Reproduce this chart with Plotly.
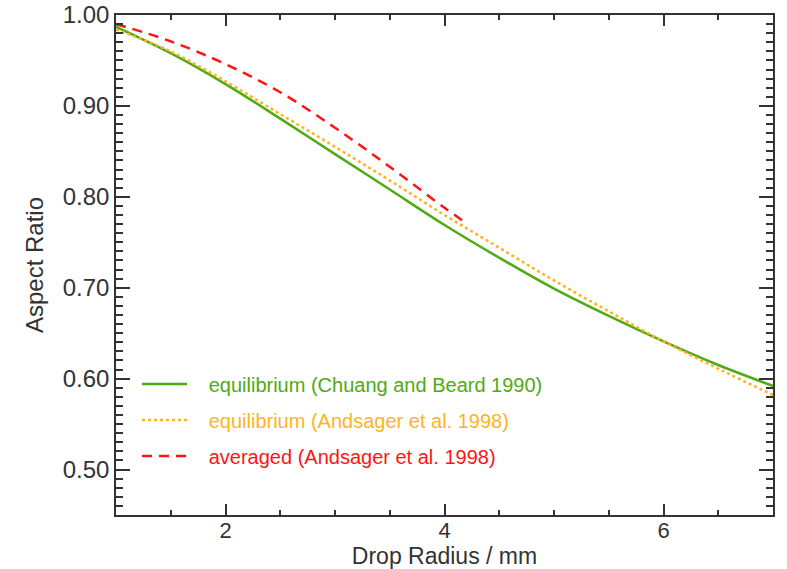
import plotly.graph_objects as go

radius = [1.0, 1.5, 2.0, 2.5, 3.0, 3.5, 4.0, 4.5, 5.0, 5.5, 6.0, 6.5, 7.0]
eq_chuang_beard = [0.987, 0.958, 0.924, 0.886, 0.847, 0.808, 0.769, 0.733, 0.699, 0.669, 0.641, 0.615, 0.592]
eq_andsager = [0.984, 0.960, 0.927, 0.891, 0.855, 0.818, 0.780, 0.744, 0.708, 0.674, 0.641, 0.611, 0.582]

radius_avg = [1.0, 1.5, 2.0, 2.5, 3.0, 3.5, 4.0, 4.2]
avg_andsager = [0.990, 0.971, 0.946, 0.915, 0.876, 0.833, 0.788, 0.771]

y_tick_vals = [0.5, 0.6, 0.7, 0.8, 0.9, 1.0]
y_tick_text = ["0.50", "0.60", "0.70", "0.80", "0.90", "1.00"]
x_tick_vals = [2, 4, 6]
x_tick_text = ["2", "4", "6"]

GREEN = "rgb(80,170,20)"
ORANGE = "rgb(255,180,30)"
RED = "rgb(255,20,20)"
AX = "#333333"
FONT = "Liberation Sans, Arial, Helvetica, sans-serif"
PAD = "\u00a0\u00a0\u00a0"

fig = go.Figure()
fig.add_trace(go.Scatter(
    x=radius, y=eq_chuang_beard, mode="lines", line=dict(color=GREEN, width=2.5, shape="spline"),
    name=f'{PAD}<span style="color:{GREEN}">equilibrium (Chuang and Beard 1990)</span>', legendgroup="a"))
fig.add_trace(go.Scatter(
    x=radius, y=eq_andsager, mode="lines", line=dict(color=ORANGE, width=2.5, dash="3px,3px", shape="spline"),
    name=f'{PAD}<span style="color:{ORANGE}">equilibrium (Andsager et al. 1998)</span>', legendgroup="b"))
fig.add_trace(go.Scatter(
    x=radius_avg, y=avg_andsager, mode="lines", line=dict(color=RED, width=2.5, dash="10px,7px", shape="spline"),
    name=f'{PAD}<span style="color:{RED}">averaged (Andsager et al. 1998)</span>', legendgroup="c"))

axis_common = dict(
    showline=True, linecolor=AX, linewidth=1.5, mirror="allticks", ticks="inside",
    tickcolor=AX, tickwidth=1.5, showgrid=False, zeroline=False, automargin=False,
    tickmode="array", ticklabeloverflow="allow",
)

fig.update_xaxes(
    range=[1, 7], tickvals=x_tick_vals, ticktext=x_tick_text, ticklen=11,
    tickfont=dict(family=FONT, size=22, color=AX), ticklabelstandoff=-5,
    minor=dict(tickmode="linear", dtick=0.5, tick0=0, ticklen=5, ticks="inside", tickcolor=AX, tickwidth=1.5, showgrid=False),
    title=dict(text="Drop Radius / mm", font=dict(family=FONT, size=23, color=AX), standoff=12),
    **axis_common)
fig.update_yaxes(
    range=[0.45, 1.0], tickvals=y_tick_vals, ticktext=y_tick_text, ticklen=14,
    tickfont=dict(family=FONT, size=24, color=AX),
    minor=dict(tickmode="linear", dtick=0.01, tick0=0, ticklen=7, ticks="inside", tickcolor=AX, tickwidth=1.5, showgrid=False),
    title=dict(text="Aspect Ratio", font=dict(family=FONT, size=24, color=AX), standoff=12),
    **axis_common)

fig.update_layout(
    width=787, height=569,
    margin=dict(l=116, r=14, t=15, b=54),
    paper_bgcolor="white", plot_bgcolor="white",
    font=dict(family=FONT, color=AX),
    legend=dict(
        x=0.032, y=0.301, xanchor="left", yanchor="top",
        bgcolor="rgba(0,0,0,0)", font=dict(family=FONT, size=20),
        tracegroupgap=7, itemwidth=45, traceorder="grouped",
    ),
)

fig.write_html("out.html")
